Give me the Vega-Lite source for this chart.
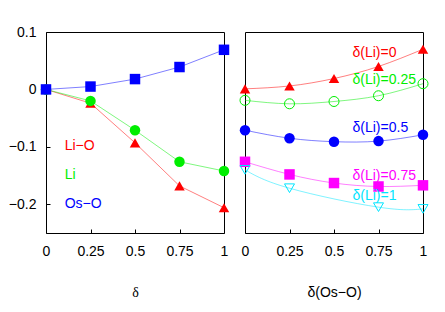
{
  "$schema": "https://vega.github.io/schema/vega-lite/v6.json",
  "padding": {"left": 7, "top": 24, "right": 0, "bottom": 0},
  "background": "white",
  "spacing": 7,
  "config": {
    "view": {"stroke": "black", "strokeWidth": 1},
    "font": "Liberation Sans",
    "axis": {
      "labelFont": "Liberation Sans", "labelFontSize": 14, "labelColor": "black",
      "titleFont": "Liberation Sans", "titleFontSize": 14, "titleFontWeight": "normal", "titleColor": "black",
      "grid": false, "domain": false, "tickColor": "black", "tickSize": 4, "offset": -4, "labelPadding": 11
    }
  },
  "datasets": {
    "left": [
      {"series": "Li−O", "x": 0, "y": 0}, {"series": "Li−O", "x": 0.25, "y": -0.024}, {"series": "Li−O", "x": 0.5, "y": -0.093}, {"series": "Li−O", "x": 0.75, "y": -0.168}, {"series": "Li−O", "x": 1, "y": -0.206},
      {"series": "Li", "x": 0, "y": 0}, {"series": "Li", "x": 0.25, "y": -0.020}, {"series": "Li", "x": 0.5, "y": -0.071}, {"series": "Li", "x": 0.75, "y": -0.126}, {"series": "Li", "x": 1, "y": -0.142},
      {"series": "Os−O", "x": 0, "y": 0}, {"series": "Os−O", "x": 0.25, "y": 0.005}, {"series": "Os−O", "x": 0.5, "y": 0.018}, {"series": "Os−O", "x": 0.75, "y": 0.039}, {"series": "Os−O", "x": 1, "y": 0.069}
    ],
    "leftLabels": [
      {"series": "Li−O", "x": 0.105, "y": -0.098},
      {"series": "Li", "x": 0.105, "y": -0.149},
      {"series": "Os−O", "x": 0.105, "y": -0.199}
    ],
    "right": [
      {"series": "δ(Li)=0", "x": 0, "y": 0.001}, {"series": "δ(Li)=0", "x": 0.25, "y": 0.006}, {"series": "δ(Li)=0", "x": 0.5, "y": 0.019}, {"series": "δ(Li)=0", "x": 0.75, "y": 0.040}, {"series": "δ(Li)=0", "x": 1, "y": 0.070},
      {"series": "δ(Li)=0.25", "x": 0, "y": -0.019}, {"series": "δ(Li)=0.25", "x": 0.25, "y": -0.025}, {"series": "δ(Li)=0.25", "x": 0.5, "y": -0.021}, {"series": "δ(Li)=0.25", "x": 0.75, "y": -0.011}, {"series": "δ(Li)=0.25", "x": 1, "y": 0.010},
      {"series": "δ(Li)=0.5", "x": 0, "y": -0.071}, {"series": "δ(Li)=0.5", "x": 0.25, "y": -0.085}, {"series": "δ(Li)=0.5", "x": 0.5, "y": -0.091}, {"series": "δ(Li)=0.5", "x": 0.75, "y": -0.090}, {"series": "δ(Li)=0.5", "x": 1, "y": -0.079},
      {"series": "δ(Li)=0.75", "x": 0, "y": -0.126}, {"series": "δ(Li)=0.75", "x": 0.25, "y": -0.148}, {"series": "δ(Li)=0.75", "x": 0.5, "y": -0.163}, {"series": "δ(Li)=0.75", "x": 0.75, "y": -0.169}, {"series": "δ(Li)=0.75", "x": 1, "y": -0.167},
      {"series": "δ(Li)=1", "x": 0, "y": -0.140}, {"series": "δ(Li)=1", "x": 0.25, "y": -0.172}, {"series": "δ(Li)=1", "x": 0.75, "y": -0.205}, {"series": "δ(Li)=1", "x": 1, "y": -0.208}
    ],
    "rightLabels": [
      {"series": "δ(Li)=0", "x": 0.604, "y": 0.063},
      {"series": "δ(Li)=0.25", "x": 0.604, "y": 0.017},
      {"series": "δ(Li)=0.5", "x": 0.604, "y": -0.068},
      {"series": "δ(Li)=0.75", "x": 0.604, "y": -0.151},
      {"series": "δ(Li)=1", "x": 0.604, "y": -0.185}
    ]
  },
  "resolve": {"scale": {"color": "independent", "shape": "independent"}},
  "hconcat": [
    {
      "width": 178, "height": 201,
      "encoding": {
        "x": {"field": "x", "type": "quantitative", "scale": {"domain": [0, 1], "nice": false},
              "axis": {"values": [0, 0.25, 0.5, 0.75, 1], "format": ".2~f", "title": "δ", "titleFont": "Liberation Serif", "titlePadding": 27, "labelFlush": false}},
        "y": {"field": "y", "type": "quantitative", "scale": {"domain": [-0.25, 0.1], "nice": false, "zero": false},
              "axis": {"values": [-0.2, -0.1, 0, 0.1], "format": ".1~f", "title": null, "labelPadding": 10}},
        "color": {"field": "series", "type": "nominal", "legend": null,
                  "scale": {"domain": ["Li−O", "Li", "Os−O"], "range": ["#ff0000", "#00ee00", "#0000ff"]}}
      },
      "layer": [
        {"data": {"name": "left"}, "mark": {"type": "line", "strokeWidth": 1, "strokeOpacity": 0.5}},
        {"data": {"name": "left"}, "mark": {"type": "point", "filled": true, "opacity": 1, "size": 110},
         "encoding": {"shape": {"field": "series", "type": "nominal", "legend": null,
                                "scale": {"domain": ["Li−O", "Li", "Os−O"], "range": ["triangle-up", "circle", "square"]}}}},
        {"data": {"name": "leftLabels"}, "mark": {"type": "text", "align": "left", "baseline": "middle", "fontSize": 14, "font": "Liberation Sans"},
         "encoding": {"text": {"field": "series"}}}
      ]
    },
    {
      "width": 178, "height": 201,
      "encoding": {
        "x": {"field": "x", "type": "quantitative", "scale": {"domain": [0, 1], "nice": false},
              "axis": {"values": [0, 0.25, 0.5, 0.75, 1], "format": ".2~f", "title": "δ(Os−O)", "titlePadding": 27, "labelFlush": false}},
        "y": {"field": "y", "type": "quantitative", "scale": {"domain": [-0.25, 0.1], "nice": false, "zero": false},
              "axis": null},
        "color": {"field": "series", "type": "nominal", "legend": null,
                  "scale": {"domain": ["δ(Li)=0", "δ(Li)=0.25", "δ(Li)=0.5", "δ(Li)=0.75", "δ(Li)=1"], "range": ["#ff0000", "#00ee00", "#0000ff", "#ff00ff", "#00e5ff"]}},
        "shape": {"field": "series", "type": "nominal", "legend": null,
                  "scale": {"domain": ["δ(Li)=0", "δ(Li)=0.25", "δ(Li)=0.5", "δ(Li)=0.75", "δ(Li)=1"], "range": ["triangle-up", "circle", "circle", "square", "triangle-down"]}}
      },
      "layer": [
        {"data": {"name": "right"}, "mark": {"type": "line", "strokeWidth": 1, "strokeOpacity": 0.5, "interpolate": "natural"},
         "encoding": {"shape": null}},
        {"data": {"name": "right"}, "transform": [{"filter": "datum.series === 'δ(Li)=0' || datum.series === 'δ(Li)=0.5' || datum.series === 'δ(Li)=0.75'"}],
         "mark": {"type": "point", "filled": true, "opacity": 1, "size": 110}},
        {"data": {"name": "right"}, "transform": [{"filter": "datum.series === 'δ(Li)=0.25' || datum.series === 'δ(Li)=1'"}],
         "mark": {"type": "point", "filled": false, "opacity": 1, "size": 100, "strokeWidth": 1}},
        {"data": {"name": "rightLabels"}, "mark": {"type": "text", "align": "left", "baseline": "middle", "fontSize": 14, "font": "Liberation Sans"},
         "encoding": {"text": {"field": "series"}, "shape": null}}
      ]
    }
  ]
}
